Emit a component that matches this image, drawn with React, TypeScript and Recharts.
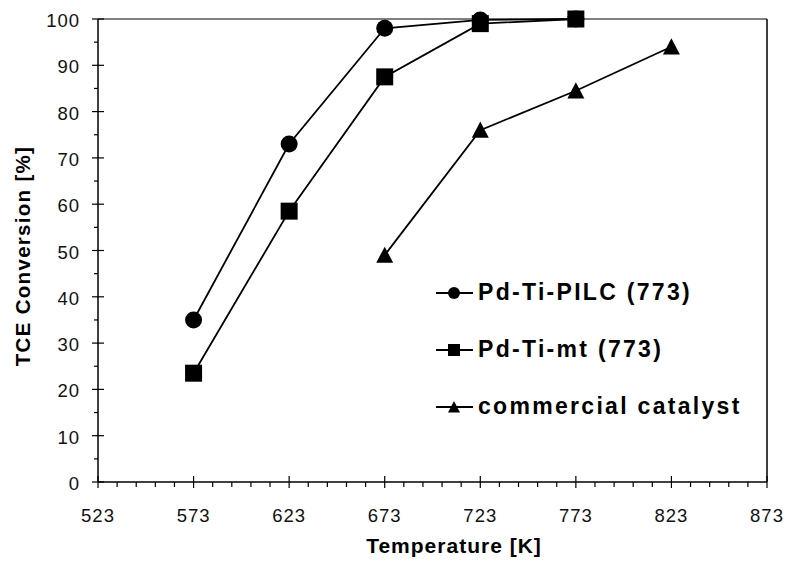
import {
  LineChart,
  Line,
  XAxis,
  YAxis,
  ReferenceLine,
  Legend,
} from "recharts";

const temps = [573, 623, 673, 723, 773, 823];
const pilc = [35, 73, 98, 99.8, 100, null];
const mt = [23.5, 58.5, 87.5, 99, 100, null];
const commercial = [null, null, 49, 76, 84.5, 94];

const xMajor = [523, 573, 623, 673, 723, 773, 823, 873];
const yMajor = [0, 10, 20, 30, 40, 50, 60, 70, 80, 90, 100];

const seriesNames = ["Pd-Ti-PILC (773)", "Pd-Ti-mt (773)", "commercial catalyst"];

// minor ticks every 10 K and every 5 %
const xTicks: number[] = [];
for (let t = 523; t <= 873; t += 10) xTicks.push(t);
const yTicks: number[] = [];
for (let v = 0; v <= 100; v += 5) yTicks.push(v);

const data = temps.map((t, i) => ({
  temp: t,
  pilc: pilc[i],
  mt: mt[i],
  commercial: commercial[i],
}));

const FONT = '"Liberation Sans", Arial, sans-serif';

function XTick(props: any) {
  const { x, y, payload } = props;
  const major = xMajor.includes(payload.value);
  return (
    <g>
      <line x1={x} x2={x} y1={major ? y - 6 : y} y2={major ? y + 6 : y + 5} stroke="#000" strokeWidth={1.2} />
      {major && (
        <text x={x} y={y + 40} textAnchor="middle" fontSize={18.5} fontFamily={FONT} fill="#111" letterSpacing={1}>
          {payload.value}
        </text>
      )}
    </g>
  );
}

function YTick(props: any) {
  const { x, y, payload } = props;
  const major = yMajor.includes(payload.value);
  return (
    <g>
      <line x1={major ? x - 6 : x - 4} x2={major ? x + 6 : x} y1={y} y2={y} stroke="#000" strokeWidth={1.2} />
      {major && (
        <text x={x - 18} y={y + 8} textAnchor="end" fontSize={18.5} fontFamily={FONT} fill="#111" letterSpacing={1}>
          {payload.value}
        </text>
      )}
    </g>
  );
}

function Marker({ shape, cx, cy, size }: { shape: string; cx: number; cy: number; size: number }) {
  const h = size / 2;
  if (shape === "circle") return <circle cx={cx} cy={cy} r={h} fill="#000" />;
  if (shape === "square") return <rect x={cx - h} y={cy - h} width={size} height={size} fill="#000" />;
  return <polygon points={`${cx},${cy - h} ${cx + h},${cy + h * 0.9} ${cx - h},${cy + h * 0.9}`} fill="#000" />;
}

const shapes = ["circle", "square", "triangle"];

function makeDot(shape: string) {
  return (p: any) => {
    if (p.value == null || p.cy == null) return <g key={p.key ?? p.index} />;
    return (
      <g key={`${shape}-${p.index}`}>
        <Marker shape={shape} cx={p.cx} cy={p.cy} size={17} />
      </g>
    );
  };
}

function LegendBox() {
  return (
    <div style={{ fontFamily: FONT }}>
      {seriesNames.map((name, i) => (
        <div key={name} style={{ display: "flex", alignItems: "center", height: 57 }}>
          <svg width={42} height={20}>
            <line x1={0} x2={37} y1={10} y2={10} stroke="#000" strokeWidth={1.8} />
            <Marker shape={shapes[i]} cx={18} cy={10} size={12} />
          </svg>
          <span style={{ fontSize: 23, fontWeight: "bold", letterSpacing: 2.3, color: "#000" }}>{name}</span>
        </div>
      ))}
    </div>
  );
}

export default function App() {
  return (
    <div style={{ position: "absolute", left: 0, top: 0, width: 785, height: 567, background: "#fff" }}>
      <LineChart width={785} height={567} data={data} margin={{ top: 19, right: 18, bottom: 25, left: 0 }}>
        <XAxis
          dataKey="temp"
          type="number"
          domain={[523, 873]}
          ticks={xTicks}
          interval={0}
          tickSize={0}
          tickMargin={0}
          tick={XTick}
          height={60}
          stroke="#000"
          strokeWidth={1.5}
          label={() => (
            <text x={454} y={553} textAnchor="middle" fontSize={21} fontWeight="bold" fontFamily={FONT} letterSpacing={1} fill="#000">
              Temperature [K]
            </text>
          )}
        />
        <YAxis
          type="number"
          domain={[0, 100]}
          ticks={yTicks}
          interval={0}
          tickSize={0}
          tickMargin={0}
          tick={YTick}
          width={98}
          stroke="#000"
          strokeWidth={1.5}
          label={() => (
            <text
              x={22}
              y={256}
              transform="rotate(-90 22 256)"
              textAnchor="middle"
              dominantBaseline="central"
              fontSize={20.5}
              fontWeight="bold"
              fontFamily={FONT}
              letterSpacing={1.3}
              fill="#000"
            >
              TCE Conversion [%]
            </text>
          )}
        />
        <ReferenceLine y={100} stroke="#808080" strokeWidth={2} />
        <ReferenceLine x={873} stroke="#000" strokeWidth={1.5} />
        <Legend
          layout="vertical"
          align="center"
          verticalAlign="middle"
          wrapperStyle={{ position: "absolute", left: 436, top: 264, width: 340 }}
          content={() => <LegendBox />}
        />
        <Line dataKey="pilc" name={seriesNames[0]} stroke="#000" strokeWidth={1.8} dot={makeDot("circle")} isAnimationActive={false} />
        <Line dataKey="mt" name={seriesNames[1]} stroke="#000" strokeWidth={1.8} dot={makeDot("square")} isAnimationActive={false} />
        <Line dataKey="commercial" name={seriesNames[2]} stroke="#000" strokeWidth={1.8} dot={makeDot("triangle")} isAnimationActive={false} />
      </LineChart>
    </div>
  );
}
